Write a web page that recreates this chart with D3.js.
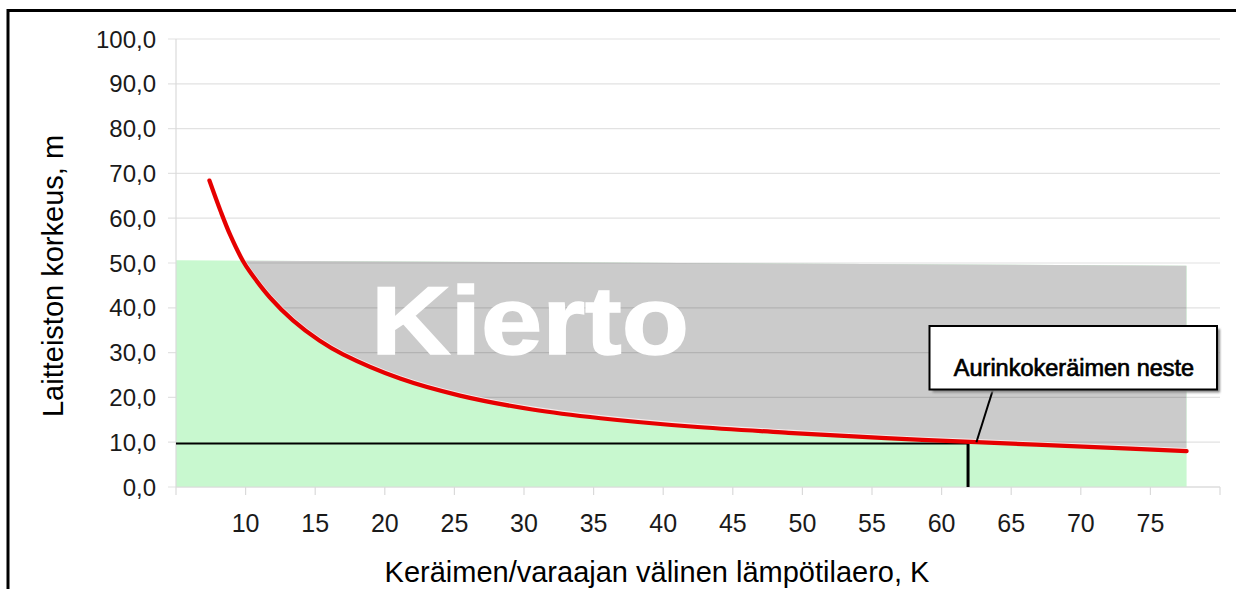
<!DOCTYPE html>
<html>
<head>
<meta charset="utf-8">
<script src="https://cdn.jsdelivr.net/npm/d3@7"></script>
<style>
  html, body { margin: 0; padding: 0; background: #fff; }
  svg { display: block; }
  text { font-family: "Liberation Sans", Arial, sans-serif; }
</style>
</head>
<body>
<svg id="chart" width="1236" height="589"></svg>
<script>
// Temperature difference between collector and storage tank (K)
const tempDiff = [7.4, 8.2, 8.9, 9.8, 10.3, 11.75, 13.4, 15.3, 17, 21.1, 25.4, 30.6, 35.5, 42, 49, 56, 62.5, 71, 77.6];
// Installation height (m)
const heights  = [68.4, 61.6, 56.2, 50.5, 48.1, 42.3, 37.2, 32.7, 29.6, 24.2, 20.4, 17.3, 15.35, 13.5, 12.1, 10.9, 10.0, 8.9, 8.0];

// Circulation band (upper limit of the shaded zone)
const bandX   = [5, 77.6];
const bandTop = [50.6, 49.4];

// Reference point for the collector fluid
const refX = 61.9;
const refH = 9.7;
const calloutX = 62.5;
const calloutH = 10.0;

const yTicks = [0, 10, 20, 30, 40, 50, 60, 70, 80, 90, 100];
const xTicks = [5, 10, 15, 20, 25, 30, 35, 40, 45, 50, 55, 60, 65, 70, 75, 80];
const xLabels = [10, 15, 20, 25, 30, 35, 40, 45, 50, 55, 60, 65, 70, 75];

const svg = d3.select("#chart");
const x = d3.scaleLinear().domain([5, 80]).range([176, 1220]);
const y = d3.scaleLinear().domain([0, 100]).range([487, 39]);

const curveData = tempDiff.map((t, i) => ({ t, h: heights[i] }));
const bandData = bandX.map((t, i) => ({ t, h: bandTop[i] }));

// outer frame
svg.append("rect")
  .attr("x", 8).attr("y", 10.5).attr("width", 1260).attr("height", 620)
  .attr("fill", "none").attr("stroke", "#000").attr("stroke-width", 3);

const defs = svg.append("defs");
const bandArea = d3.area().x(d => x(d.t)).y0(y(0)).y1(d => y(d.h));
defs.append("clipPath").attr("id", "band-clip")
  .append("path").attr("d", bandArea(bandData));
const aboveArea = d3.area().x(d => x(d.t)).y0(y(100)).y1(d => y(d.h)).curve(d3.curveCatmullRom);
defs.append("clipPath").attr("id", "above-clip")
  .append("path").attr("d", aboveArea(curveData));
defs.append("filter").attr("id", "soft")
  .append("feGaussianBlur").attr("stdDeviation", 0.8);

// horizontal gridlines
const grid = svg.append("g");
grid.selectAll("line").data(yTicks).join("line")
  .attr("x1", 168).attr("x2", 1220)
  .attr("y1", d => y(d)).attr("y2", d => y(d))
  .attr("stroke", "#e2e2e2").attr("stroke-width", 1.2);

// green band (flow zone)
svg.append("path").attr("d", bandArea(bandData)).attr("fill", "#c8f8cf");

// gray zone above the curve within the band
const grayOuter = svg.append("g").attr("clip-path", "url(#band-clip)");
const grayInner = grayOuter.append("g").attr("clip-path", "url(#above-clip)");
grayInner.append("rect")
  .attr("x", x(5)).attr("y", y(100))
  .attr("width", x(80) - x(5)).attr("height", y(0) - y(100))
  .attr("fill", "#cbcbcb");
grayInner.selectAll("line").data(yTicks).join("line")
  .attr("x1", 168).attr("x2", 1220)
  .attr("y1", d => y(d)).attr("y2", d => y(d))
  .attr("stroke", "#b3b3b3").attr("stroke-width", 1.2);

// axes lines
svg.append("line")
  .attr("x1", x(5)).attr("x2", x(5)).attr("y1", y(100)).attr("y2", y(0))
  .attr("stroke", "#dadada").attr("stroke-width", 1.2);
svg.append("line")
  .attr("x1", x(5)).attr("x2", x(80)).attr("y1", y(0)).attr("y2", y(0))
  .attr("stroke", "#dadada").attr("stroke-width", 1.2);
svg.append("g").selectAll("line").data(xTicks).join("line")
  .attr("x1", d => x(d)).attr("x2", d => x(d))
  .attr("y1", y(0)).attr("y2", y(0) + 8)
  .attr("stroke", "#dadada").attr("stroke-width", 1.2);

// y tick labels
svg.append("g").selectAll("text").data(yTicks).join("text")
  .attr("x", 156).attr("y", d => y(d))
  .attr("dy", "0.36em")
  .attr("text-anchor", "end")
  .attr("font-size", 24)
  .attr("fill", "#1a1a1a")
  .text(d => d3.format(".1f")(d).replace(".", ","));

// x tick labels
svg.append("g").selectAll("text").data(xLabels).join("text")
  .attr("x", d => x(d)).attr("y", 532)
  .attr("text-anchor", "middle")
  .attr("font-size", 25)
  .attr("fill", "#1a1a1a")
  .text(d => d);

// "Kierto" label
svg.append("text")
  .attr("x", 371).attr("y", 354)
  .attr("font-size", 96).attr("font-weight", "bold")
  .attr("fill", "#fff").attr("stroke", "#fff").attr("stroke-width", 1.5)
  .attr("textLength", 318).attr("lengthAdjust", "spacingAndGlyphs")
  .text("Kierto");

// reference lines
svg.append("line")
  .attr("x1", x(5)).attr("x2", x(refX))
  .attr("y1", y(refH)).attr("y2", y(refH))
  .attr("stroke", "#000").attr("stroke-width", 2);
svg.append("line")
  .attr("x1", x(refX)).attr("x2", x(refX))
  .attr("y1", y(refH) - 1).attr("y2", y(0))
  .attr("stroke", "#000").attr("stroke-width", 3);

// height curve
const line = d3.line().x(d => x(d.t)).y(d => y(d.h)).curve(d3.curveCatmullRom);
svg.append("path").attr("d", line(curveData))
  .attr("fill", "none").attr("stroke", "#fff0f0").attr("stroke-width", 4)
  .attr("stroke-linecap", "round").attr("opacity", 0.8)
  .attr("transform", "translate(0,-1.2)");
svg.append("path").attr("d", line(curveData))
  .attr("fill", "none").attr("stroke", "#e60000").attr("stroke-width", 4.2)
  .attr("stroke-linecap", "round");

// callout
const box = { x: 929.5, y: 326, w: 287.5, h: 63.5 };
svg.append("line")
  .attr("x1", 993).attr("y1", box.y + box.h)
  .attr("x2", x(calloutX)).attr("y2", y(calloutH))
  .attr("stroke", "#000").attr("stroke-width", 2);
svg.append("rect")
  .attr("x", box.x + 3).attr("y", box.y + 3).attr("width", box.w).attr("height", box.h)
  .attr("fill", "#8a8a8a").attr("filter", "url(#soft)");
svg.append("rect")
  .attr("x", box.x).attr("y", box.y).attr("width", box.w).attr("height", box.h)
  .attr("fill", "#fff").attr("stroke", "#000").attr("stroke-width", 2);
svg.append("text")
  .attr("x", 1074).attr("y", 376)
  .attr("text-anchor", "middle")
  .attr("font-size", 23.5)
  .attr("fill", "#000").attr("stroke", "#000").attr("stroke-width", 0.7)
  .text("Aurinkokeräimen neste");

// axis titles
svg.append("text")
  .attr("x", 657).attr("y", 582)
  .attr("text-anchor", "middle")
  .attr("font-size", 29)
  .attr("fill", "#000")
  .text("Keräimen/varaajan välinen lämpötilaero, K");
svg.append("text")
  .attr("transform", "translate(63,276) rotate(-90)")
  .attr("text-anchor", "middle")
  .attr("font-size", 29)
  .attr("fill", "#000")
  .text("Laitteiston korkeus, m");
</script>
</body>
</html>
